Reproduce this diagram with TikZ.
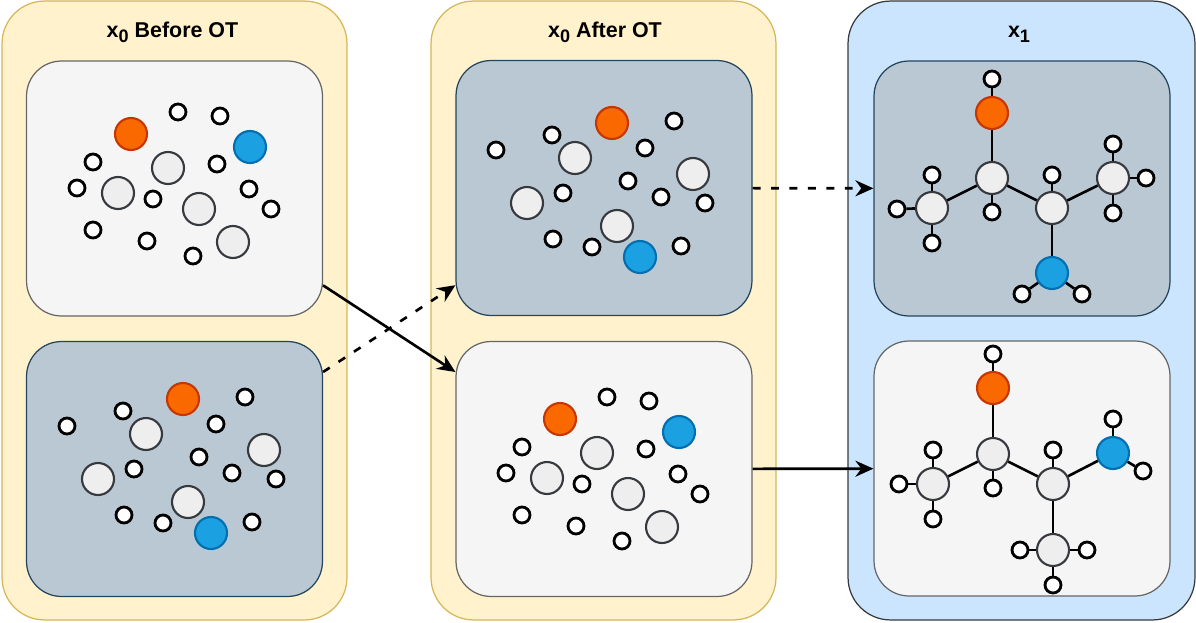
\documentclass[tikz,border=0pt]{standalone}
\usepackage{fontspec}
\setmainfont{Liberation Sans}
\usetikzlibrary{arrows.meta, positioning}
\definecolor{panelfill}{HTML}{FFF2CC}
\definecolor{paneldraw}{HTML}{D6B656}
\definecolor{targetfill}{HTML}{CCE5FF}
\definecolor{darkgray}{HTML}{36393D}
\definecolor{slatefill}{HTML}{BAC8D3}
\definecolor{slatedraw}{HTML}{23445D}
\definecolor{lightfill}{HTML}{F5F5F5}
\definecolor{lightdraw}{HTML}{666666}
\definecolor{cfill}{HTML}{EEEEEE}
\definecolor{ofill}{HTML}{FA6800}
\definecolor{odraw}{HTML}{C73500}
\definecolor{nfill}{HTML}{1BA1E2}
\definecolor{ndraw}{HTML}{006EAF}
\newcommand{\lowidx}[1]{\raisebox{-3.4pt}{\fontsize{10.3}{12}\selectfont #1}}
\tikzset{%
>={Stealth[length=3.6mm,width=3.2mm]},
  % Specifications for style of panels and boxes:
            panel/.style = {rectangle, rounded corners=0.85cm, draw=paneldraw,
                            fill=panelfill, minimum width=6.9cm, minimum
                            height=12.38cm, line width=0.7pt},
            target/.style = {panel, draw=darkgray, fill=targetfill, minimum width=6.94cm},
            slatebox/.style = {rectangle, rounded corners=0.7cm, draw=slatedraw,
                            fill=slatefill, minimum width=5.92cm, minimum height=5.1cm,
                            line width=0.7pt},
            lightbox/.style = {slatebox, draw=lightdraw, fill=lightfill},
            title/.style = {font=\bfseries\fontsize{12.2}{15}\selectfont, anchor=base},
  % Specifications for style of atoms:
            hatom/.style = {circle, draw=black, fill=white, line width=1.6pt,
                            minimum size=0.32cm, inner sep=0pt},
            catom/.style = {circle, draw=darkgray, fill=cfill, line width=1.2pt,
                            minimum size=0.64cm, inner sep=0pt},
            oatom/.style = {catom, draw=odraw, fill=ofill},
            natom/.style = {catom, draw=ndraw, fill=nfill},
            bond/.style = {line width=1.5pt},
            flow/.style = {->, line width=1.5pt},
            guess/.style = {flow, dash pattern=on 4.5pt off 6pt}
}
% scattered atoms, first layout
\newcommand{\noiseA}[1]{%
  \node[oatom] (#1o) at (131,134) {};
  \node[natom] (#1n) at (250,147) {};
  \foreach \p [count=\i] in {(168,168),(118,193),(199,209),(233,242)}
    \node[catom] (#1c\i) at \p {};
  \foreach \p [count=\i] in {(178,112),(220,116),(93,162),(217,164),(77,188),(153,199),
                             (249,189),(271,209),(93,230),(147,241),(193,256)}
    \node[hatom] (#1h\i) at \p {};
}
% scattered atoms, second layout
\newcommand{\noiseB}[1]{%
  \node[oatom] (#1o) at (183,399) {};
  \node[natom] (#1n) at (211,533) {};
  \foreach \p [count=\i] in {(146,434),(98,479),(264,450),(188,502)}
    \node[catom] (#1c\i) at \p {};
  \foreach \p [count=\i] in {(67,426),(123,411),(245,397),(216,424),(199,457),(134,469),
                             (232,473),(276,479),(124,515),(163,523),(252,522)}
    \node[hatom] (#1h\i) at \p {};
}

\begin{document}
\begin{tikzpicture}[x=0.02cm, y=-0.02cm]
  \useasboundingbox (0,0) rectangle (1196,622);
  % panels
  \node[panel] (before) at (174.5,310.5) {};
  \node[panel] (after) at (603.5,310.5) {};
  \node[target] (data) at (1021.5,310.5) {};
  \node[title] (tbefore) at (172.5,37) {x\lowidx{0} Before OT};
  \node[title] (tafter) at (605,37) {x\lowidx{0} After OT};
  \node[title] (tdata) at (1019,37) {x\lowidx{1}};
  % boxes
  \node[lightbox] (b1) at (174.5,188.5) {};
  \node[slatebox] (b2) at (174.5,469) {};
  \node[slatebox] (a1) at (604,188) {};
  \node[lightbox] (a2) at (604,469) {};
  \node[slatebox] (m1) at (1022,188.5) {};
  \node[lightbox] (m2) at (1022,468.5) {};
  % noise samples
  \noiseA{pa}
  \noiseB{pb}
  \begin{scope}[shift={(429,-276)}]
    \noiseB{qa}
  \end{scope}
  \begin{scope}[shift={(429,285)}]
    \noiseA{qb}
  \end{scope}
  % first molecule
  \node[hatom] (uho) at (992,79) {};
  \node[oatom] (uo) at (992,113) {};
  \node[catom] (uc2) at (992,178) {};
  \node[hatom] (uh2) at (992,212) {};
  \node[catom] (uc1) at (932,208) {};
  \node[hatom] (uh1a) at (932,175) {};
  \node[hatom] (uh1b) at (897,209) {};
  \node[hatom] (uh1c) at (932,243) {};
  \node[catom] (uc3) at (1052,208) {};
  \node[hatom] (uh3) at (1052,175) {};
  \node[natom] (un) at (1052,273) {};
  \node[hatom] (uhn1) at (1022,294) {};
  \node[hatom] (uhn2) at (1082,294) {};
  \node[catom] (uc4) at (1113,178) {};
  \node[hatom] (uh4a) at (1113,144) {};
  \node[hatom] (uh4b) at (1146,178) {};
  \node[hatom] (uh4c) at (1113,213) {};
  \draw[bond] (uho)--(uo);
  \draw[bond] (uo)--(uc2);
  \draw[bond] (uc2)--(uh2);
  \draw[bond] (uc2)--(uc1);
  \draw[bond] (uc2)--(uc3);
  \draw[bond] (uc1)--(uh1a);
  \draw[bond] (uc1)--(uh1b);
  \draw[bond] (uc1)--(uh1c);
  \draw[bond] (uc3)--(uh3);
  \draw[bond] (uc3)--(un);
  \draw[bond] (un)--(uhn1);
  \draw[bond] (un)--(uhn2);
  \draw[bond] (uc3)--(uc4);
  \draw[bond] (uc4)--(uh4a);
  \draw[bond] (uc4)--(uh4b);
  \draw[bond] (uc4)--(uh4c);
  % second molecule
  \node[hatom] (vho) at (993,354) {};
  \node[oatom] (vo) at (993,388) {};
  \node[catom] (vc2) at (993,454) {};
  \node[hatom] (vh2) at (993,488) {};
  \node[catom] (vc1) at (933,484) {};
  \node[hatom] (vh1a) at (933,450) {};
  \node[hatom] (vh1b) at (899,484) {};
  \node[hatom] (vh1c) at (933,519) {};
  \node[catom] (vc3) at (1053,484) {};
  \node[hatom] (vh3) at (1053,450) {};
  \node[natom] (vn) at (1113,453) {};
  \node[hatom] (vhn1) at (1113,419) {};
  \node[hatom] (vhn2) at (1143,471) {};
  \node[catom] (vc4) at (1053,550) {};
  \node[hatom] (vh4a) at (1020,550) {};
  \node[hatom] (vh4b) at (1087,550) {};
  \node[hatom] (vh4c) at (1053,585) {};
  \draw[bond] (vho)--(vo);
  \draw[bond] (vo)--(vc2);
  \draw[bond] (vc2)--(vh2);
  \draw[bond] (vc2)--(vc1);
  \draw[bond] (vc2)--(vc3);
  \draw[bond] (vc1)--(vh1a);
  \draw[bond] (vc1)--(vh1b);
  \draw[bond] (vc1)--(vh1c);
  \draw[bond] (vc3)--(vh3);
  \draw[bond] (vc3)--(vn);
  \draw[bond] (vn)--(vhn1);
  \draw[bond] (vn)--(vhn2);
  \draw[bond] (vc3)--(vc4);
  \draw[bond] (vc4)--(vh4a);
  \draw[bond] (vc4)--(vh4b);
  \draw[bond] (vc4)--(vh4c);
  % couplings
  \draw[flow] (b1)--(a2);
  \draw[guess] (b2)--(a1);
  \draw[guess] (a1)--(m1);
  \draw[flow] (a2)--(m2);
\end{tikzpicture}
\end{document}
